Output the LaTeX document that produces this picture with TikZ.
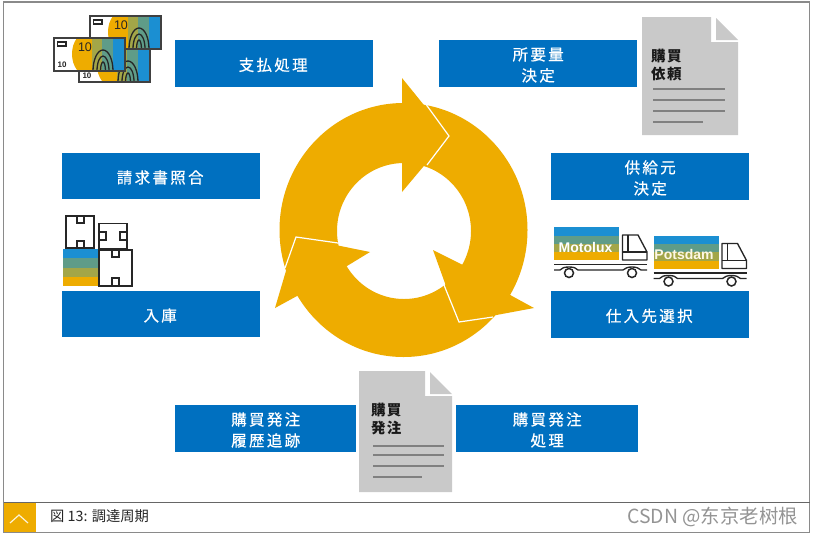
\documentclass[tikz,border=0pt]{standalone}
\usepackage{fontspec}
\setmainfont{Noto Sans CJK JP}
\newfontfamily\scfont{Noto Sans CJK SC}
\newfontfamily\latfont{Liberation Sans}
\usetikzlibrary{calc}
\definecolor{bluebox}{HTML}{0070C0}
\definecolor{gold}{HTML}{EEAC00}
\definecolor{bandblue}{HTML}{1B8FD2}
\definecolor{bandgreen}{HTML}{5F9C88}
\definecolor{bandolive}{HTML}{A3A648}
\definecolor{docgray}{HTML}{C9C9C9}
\definecolor{frameline}{HTML}{8A8A8A}
\tikzset{
  stepbox/.style={fill=bluebox,draw=none,text=white,inner sep=0pt,align=center,font=\fontsize{15.5}{21}\selectfont\addfontfeature{LetterSpace=15,FakeBold=0.6}},
  doctext/.style={anchor=north west,inner sep=0pt,align=left,text=black!90,font=\fontsize{14.5}{18}\bfseries\selectfont\addfontfeature{LetterSpace=9}},
  docline/.style={draw=black!50,line width=1.1pt},
  ink/.style={draw=black!85,line width=1.35pt},
  trucktext/.style={inner sep=0pt,font=\fontsize{14}{14}\bfseries\selectfont\latfont},
}
\newcommand{\stepnode}[6]{\node[stepbox,minimum width=#3 pt-#1 pt,minimum height=#4 pt-#2 pt,anchor=north west] (#5) at (#1,#2) {\rule{0pt}{15.5pt}#6\hspace{2pt}};}
\newcommand{\banknote}[2]{%
 \begin{scope}[shift={(#1,#2)}]
  \fill[white] (0,0) rectangle (71,33);
  \begin{scope}
   \clip (0,0) rectangle (71,33);
   \fill[gold] (34,16) ellipse (16 and 22);
   \fill[bandolive] (38,0) rectangle (48,33);
   \fill[bandgreen] (48,0) rectangle (59,33);
   \fill[bandblue] (59,0) rectangle (71,33);
   \draw[black!85,line width=1.3pt] (49,33) ellipse (10 and 21);
   \draw[black!85,line width=1.3pt] (49,33) ellipse (6 and 15);
   \draw[black!85,line width=1.3pt] (49,33) ellipse (2.5 and 9);
  \end{scope}
  \draw[ink,fill=white] (3.5,4) rectangle (12,8);
  \node[inner sep=0pt,text=black!85,font=\fontsize{12.5}{12}\selectfont\latfont] at (31,9) {10};
  \node[inner sep=0pt,text=black!85,font=\fontsize{8}{8}\bfseries\selectfont\latfont] at (8,26.5) {10};
  \draw[black!75,line width=1.4pt] (0,0) rectangle (71,33);
 \end{scope}}
\newcommand{\truck}[2]{%
 \begin{scope}[shift={(#1,#2)}]
  \fill[bandblue] (0,0) rectangle (65,8.5);
  \fill[bandgreen] (0,8.5) rectangle (65,16.5);
  \fill[bandolive] (0,16.5) rectangle (65,25);
  \fill[gold] (0,25) rectangle (65,33);
  \draw[ink,line join=round] (68.5,33) -- (68.5,8) -- (84,8) -- (93,25) -- (93,33) -- cycle;
  \draw[ink] (74,8) -- (74,25) (68.5,25) -- (93,25);
  \draw[ink] (0,37.5) -- (93,37.5);
  \draw[ink] (0,43) -- (6,43) .. controls (8,41) and (10,40) .. (15,40) .. controls (20,40) and (22,41) .. (24,43) -- (69,43) .. controls (71,41) and (74,40) .. (78,40) .. controls (82,40) and (85,41) .. (87,43) -- (93,43);
  \draw[ink,fill=white,line width=1.5pt] (15,46) circle (4.5);
  \draw[ink,fill=white,line width=1.5pt] (78,46) circle (4.5);
 \end{scope}}
\begin{document}
\begin{tikzpicture}[x=1pt,y=-1pt]
\useasboundingbox (0,0) rectangle (813,536);
\fill[white] (0,0) rectangle (813,536);

% frame
\draw[frameline,line width=1.2pt] (3.5,2) rectangle (809.5,532.5);
\draw[black!60,line width=1pt] (3.5,502) -- (809.5,502);
\fill[gold] (4,503) rectangle (36,532);
\draw[white!85!gold,line width=1.2pt] (10,523) -- (19,515) -- (28,523);
\node[anchor=west,inner sep=0pt,text=black!85,font=\fontsize{14.3}{16}\selectfont] (caption) at (50,516) {図 13: 調達周期};
\node[anchor=east,inner sep=0pt,text=black!42,font=\fontsize{19.4}{21}\selectfont\scfont] (mark) at (798,517) {CSDN @东京老树根};

% cycle
\fill[gold,even odd rule] (403.5,230) ellipse (124 and 127) (404,231) ellipse (67 and 68);
\fill[gold] (402,78) -- (449,136) -- (402,192) -- cycle;
\fill[gold] (433,250) -- (459,322) -- (534,308) -- (512,296) -- (461,264) -- cycle;
\fill[gold] (370,252) -- (296,237) -- (275,308) -- (297,296) -- (347,266) -- cycle;
\draw[white,line width=1.2pt,line join=miter] (425,103) -- (449,136) -- (427,165);
\draw[white,line width=1.2pt,line join=miter] (444,285) -- (459,322) -- (493,317);
\draw[white,line width=1.2pt,line join=miter] (285,268) -- (296,237) -- (338,243);

% boxes
\stepnode{175}{40}{373}{87}{pay}{支払処理}
\stepnode{439}{40}{637}{87}{need}{所要量\hspace{2pt}\\決定}
\stepnode{551}{153}{749}{200}{supply}{供給元\hspace{2pt}\\決定}
\stepnode{551}{291}{749}{338}{vendor}{仕入先選択}
\stepnode{62}{153}{260}{199}{invoice}{請求書照合}
\stepnode{62}{291}{260}{337}{stock}{入庫}
\stepnode{175}{405}{356}{452}{history}{購買発注\hspace{2pt}\\履歴追跡}
\stepnode{456}{405}{638}{452}{order}{購買発注\hspace{2pt}\\処理}

% banknotes
\banknote{79}{49}
\banknote{90}{16}
\banknote{54}{38}

% document 1
\fill[docgray] (642,17) -- (711,17) -- (711,42) -- (738,42) -- (738,135) -- (642,135) -- cycle;
\fill[docgray] (716,18) -- (738,40) -- (716,40) -- cycle;
\node[doctext] (req) at (651,49) {購買\\依頼};
\draw[docline] (653,89) -- (725,89) (653,100) -- (725,100) (653,111) -- (725,111) (653,122) -- (703,122);

% document 2
\fill[docgray] (359,371) -- (425,371) -- (425,396) -- (452,396) -- (452,492) -- (359,492) -- cycle;
\fill[docgray] (430,372) -- (452,394) -- (430,394) -- cycle;
\node[doctext] (po) at (371,403) {購買\\発注};
\draw[docline] (373,446) -- (444,446) (373,455) -- (444,455) (373,466) -- (444,466) (373,477) -- (422,477);

% trucks
\truck{554}{227}
\truck{653.5}{235.5}
\node[trucktext,text=white] (moto) at (585.5,247) {Motolux};
\node[trucktext,text=white!90!gold] (pots) at (684,254) {Potsdam};

% stock boxes
\fill[bandblue] (63,249) rectangle (99,258);
\fill[bandgreen] (63,258) rectangle (99,267.5);
\fill[bandolive] (63,267.5) rectangle (99,277);
\fill[gold] (63,277) rectangle (99,286);
\draw[ink,fill=white] (66,216) rectangle (94,248);
\draw[ink] (77,216) -- (77,223) -- (84,223) -- (84,216) (77,248) -- (77,241) -- (84,241) -- (84,248);
\draw[ink,fill=white] (99,223.5) rectangle (127,249);
\draw[ink] (99,232) -- (106,232) -- (106,240) -- (99,240) (127,232) -- (120,232) -- (120,240) -- (127,240);
\draw[ink,fill=white] (99,250) rectangle (132,286);
\draw[ink] (112,250) -- (112,257) -- (119,257) -- (119,250) (112,286) -- (112,278) -- (119,278) -- (119,286);
\end{tikzpicture}
\end{document}
